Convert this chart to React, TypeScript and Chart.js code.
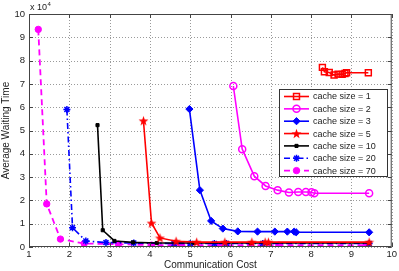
import React, { useEffect, useRef } from "react";
import { Chart, registerables } from "chart.js";
import { drawPoint } from "chart.js/helpers";

Chart.register(...registerables);

const X_TICKS = [1, 2, 3, 4, 5, 6, 7, 8, 9, 10];
const Y_TICKS = [0, 1, 2, 3, 4, 5, 6, 7, 8, 9, 10];

const labels = [
  "cache size = 1",
  "cache size = 2",
  "cache size = 3",
  "cache size = 5",
  "cache size = 10",
  "cache size = 20",
  "cache size = 70",
];

const c1x = [8.28, 8.33, 8.45, 8.57, 8.67, 8.77, 8.84, 8.88, 9.42];
const c1y = [7.71, 7.52, 7.49, 7.38, 7.42, 7.41, 7.45, 7.48, 7.48];

const c2x = [6.07, 6.29, 6.59, 6.87, 7.17, 7.45, 7.68, 7.87, 8.01, 8.08, 9.44];
const c2y = [6.91, 4.2, 3.04, 2.62, 2.44, 2.34, 2.36, 2.36, 2.35, 2.31, 2.31];

const c3x = [4.98, 5.24, 5.52, 5.81, 6.18, 6.67, 7.1, 7.41, 7.58, 7.63, 9.44];
const c3y = [5.92, 2.44, 1.12, 0.79, 0.67, 0.66, 0.66, 0.66, 0.66, 0.63, 0.63];

const c5x = [3.84, 4.04, 4.25, 4.65, 5.16, 5.86, 6.53, 6.86, 6.94, 9.44];
const c5y = [5.42, 1.03, 0.39, 0.25, 0.21, 0.21, 0.21, 0.21, 0.21, 0.21];

const c10x = [2.7, 2.83, 3.12, 3.58, 4.17, 5.1, 6.5, 6.9, 9.44];
const c10y = [5.23, 0.72, 0.26, 0.2, 0.17, 0.17, 0.17, 0.17, 0.17];

const c20x = [1.94, 2.08, 2.41, 2.91, 3.6, 4.6, 5.0, 5.6, 5.9, 6.8, 9.44];
const c20y = [5.9, 0.83, 0.26, 0.19, 0.17, 0.15, 0.15, 0.15, 0.15, 0.15, 0.15];

const c70x = [1.23, 1.44, 1.78, 2.37, 3.22, 4.04, 4.6, 4.79, 5.7, 6.5, 7.2, 9.38];
const c70y = [9.34, 1.85, 0.34, 0.15, 0.12, 0.08, 0.08, 0.08, 0.08, 0.08, 0.08, 0.08];

const FONT = "'Liberation Sans', Arial, sans-serif";

function pts(xs: number[], ys: number[]) {
  return xs.map((x, i) => ({ x, y: ys[i] }));
}

function makePentagram(color: string, size: number) {
  const c = document.createElement("canvas");
  c.width = size;
  c.height = size;
  const ctx = c.getContext("2d")!;
  const cx = size / 2, cy = size / 2 + 0.5;
  const R = size / 2 - 0.3, r = R * 0.4;
  ctx.beginPath();
  for (let i = 0; i < 10; i++) {
    const rad = i % 2 === 0 ? R : r;
    const a = -Math.PI / 2 + (i * Math.PI) / 5;
    const px = cx + rad * Math.cos(a);
    const py = cy + rad * Math.sin(a);
    if (i === 0) ctx.moveTo(px, py);
    else ctx.lineTo(px, py);
  }
  ctx.closePath();
  ctx.fillStyle = color;
  ctx.fill();
  return c;
}

export default function App() {
  const ref = useRef<HTMLCanvasElement>(null);

  useEffect(() => {
    const star = makePentagram("#ff0000", 11);

    const datasets: any[] = [
      { label: labels[0], data: pts(c1x, c1y), borderColor: "#ff0000", backgroundColor: "rgba(0,0,0,0)", pointStyle: "rect", pointRadius: 4.2, pointBorderWidth: 1.5, borderWidth: 1.6 },
      { label: labels[1], data: pts(c2x, c2y), borderColor: "#ff00ff", backgroundColor: "rgba(0,0,0,0)", pointStyle: "circle", pointRadius: 3.5, pointBorderWidth: 1.5, borderWidth: 1.6 },
      { label: labels[2], data: pts(c3x, c3y), borderColor: "#0000ff", backgroundColor: "#0000ff", pointStyle: "rectRot", pointRadius: 3.6, pointBorderWidth: 1, borderWidth: 1.6 },
      { label: labels[3], data: pts(c5x, c5y), borderColor: "#ff0000", backgroundColor: "#ff0000", pointStyle: star, pointRadius: 5, borderWidth: 1.6 },
      { label: labels[4], data: pts(c10x, c10y), borderColor: "#000000", backgroundColor: "#000000", pointStyle: "rect", pointRadius: 2.2, pointBorderWidth: 1, borderWidth: 1.6 },
      { label: labels[5], data: pts(c20x, c20y), borderColor: "#0000ff", backgroundColor: "#0000ff", pointStyle: "star", pointRadius: 3.5, pointBorderWidth: 1.5, borderWidth: 1.6, borderDash: [6, 3, 1.5, 3] },
      { label: labels[6], data: pts(c70x, c70y), borderColor: "#ff00ff", backgroundColor: "#ff00ff", pointStyle: "circle", pointRadius: 3.2, pointBorderWidth: 1, borderWidth: 1.8, borderDash: [6, 4] },
    ];
    datasets.forEach((d) => {
      d.showLine = true;
      d.tension = 0;
      d.pointBackgroundColor = d.backgroundColor;
      d.pointBorderColor = d.borderColor;
    });

    const gridPlugin = {
      id: "dotgrid",
      beforeDatasetsDraw(chart: any) {
        const { ctx, chartArea: a } = chart;
        const xs = chart.scales.x, ys = chart.scales.y;
        ctx.save();
        ctx.strokeStyle = "#9a9a9a";
        ctx.lineWidth = 1;
        ctx.setLineDash([1, 2]);
        ctx.beginPath();
        X_TICKS.forEach((v) => {
          const px = Math.round(xs.getPixelForValue(v)) + 0.5;
          ctx.moveTo(px, a.top);
          ctx.lineTo(px, a.bottom);
        });
        Y_TICKS.forEach((v) => {
          const py = Math.round(ys.getPixelForValue(v)) + 0.5;
          ctx.moveTo(a.left, py);
          ctx.lineTo(a.right, py);
        });
        ctx.stroke();
        ctx.restore();
      },
    };

    const framePlugin = {
      id: "frame",
      afterDraw(chart: any) {
        const { ctx, chartArea: a } = chart;
        const xs = chart.scales.x, ys = chart.scales.y;
        ctx.save();
        ctx.strokeStyle = "#444";
        ctx.lineWidth = 1;
        ctx.setLineDash([]);
        ctx.strokeRect(a.left + 0.5, a.top + 0.5, a.right - a.left - 1, a.bottom - a.top - 1);
        ctx.beginPath();
        const tl = 4;
        X_TICKS.forEach((v) => {
          const px = Math.round(xs.getPixelForValue(v)) + 0.5;
          ctx.moveTo(px, a.bottom); ctx.lineTo(px, a.bottom - tl);
          ctx.moveTo(px, a.top); ctx.lineTo(px, a.top + tl);
        });
        Y_TICKS.forEach((v) => {
          const py = Math.round(ys.getPixelForValue(v)) + 0.5;
          ctx.moveTo(a.left, py); ctx.lineTo(a.left + tl, py);
          ctx.moveTo(a.right, py); ctx.lineTo(a.right - tl, py);
        });
        ctx.stroke();

        // exponent label
        ctx.fillStyle = "#222";
        ctx.textBaseline = "alphabetic";
        ctx.textAlign = "left";
        ctx.font = `9px ${FONT}`;
        ctx.fillText("x 10", a.left + 1, a.top - 4);
        const w = ctx.measureText("x 10").width;
        ctx.font = `6px ${FONT}`;
        ctx.fillText("4", a.left + 1 + w + 0.5, a.top - 8);

        // legend
        const lx = 279.5, ly = 89.5, lw = 108, lh = 87;
        ctx.fillStyle = "#ffffff";
        ctx.fillRect(lx, ly, lw, lh);
        ctx.strokeStyle = "#333";
        ctx.lineWidth = 1;
        ctx.strokeRect(lx, ly, lw, lh);
        chart.data.datasets.forEach((d: any, i: number) => {
          const cy = 96.5 + i * 12.35;
          ctx.save();
          ctx.strokeStyle = d.borderColor;
          ctx.lineWidth = d.borderWidth;
          ctx.setLineDash(d.borderDash || []);
          ctx.beginPath();
          ctx.moveTo(284, cy);
          ctx.lineTo(309, cy);
          ctx.stroke();
          ctx.setLineDash([]);
          ctx.fillStyle = d.pointBackgroundColor;
          ctx.strokeStyle = d.pointBorderColor;
          ctx.lineWidth = d.pointBorderWidth || 1;
          drawPoint(ctx, { pointStyle: d.pointStyle, rotation: 0, radius: d.pointRadius, borderWidth: d.pointBorderWidth || 0 }, 296.5, cy);
          ctx.restore();
          ctx.fillStyle = "#222";
          ctx.font = `9px ${FONT}`;
          ctx.textAlign = "left";
          ctx.textBaseline = "middle";
          ctx.fillText(d.label, 313, cy + 0.5);
        });
        ctx.restore();
      },
    };

    const chart = new Chart(ref.current!, {
      type: "scatter",
      data: { datasets },
      plugins: [gridPlugin, framePlugin],
      options: {
        animation: false,
        responsive: false,
        maintainAspectRatio: false,
        layout: { padding: { top: 14, right: 7, left: 0, bottom: 0 } },
        plugins: { legend: { display: false }, tooltip: { enabled: false } },
        scales: {
          x: {
            type: "linear",
            min: 1,
            max: 10,
            afterBuildTicks: (s: any) => { s.ticks = X_TICKS.map((v) => ({ value: v })); },
            afterFit: (s: any) => { s.height = 24; },
            ticks: { color: "#222", font: { family: FONT, size: 9.5 }, padding: 2, maxRotation: 0 },
            grid: { display: false, drawTicks: false },
            border: { display: false },
            title: { display: true, text: "Communication Cost", color: "#222", font: { family: FONT, size: 10 }, padding: { top: 0, bottom: 0 } },
          },
          y: {
            type: "linear",
            min: 0,
            max: 10,
            afterBuildTicks: (s: any) => { s.ticks = Y_TICKS.map((v) => ({ value: v })); },
            afterFit: (s: any) => { s.width = 29; },
            ticks: { color: "#222", font: { family: FONT, size: 9.5 }, padding: 4 },
            grid: { display: false, drawTicks: false },
            border: { display: false },
            title: { display: true, text: "Average Waiting Time", color: "#222", font: { family: FONT, size: 10 }, padding: { top: 0, bottom: 0 } },
          },
        },
      } as any,
    });
    return () => chart.destroy();
  }, []);

  return (
    <div style={{ position: "fixed", left: 0, top: 0, width: 399, height: 271, background: "#fff" }}>
      <canvas ref={ref} width={399} height={271} style={{ width: 399, height: 271, display: "block" }} />
    </div>
  );
}
